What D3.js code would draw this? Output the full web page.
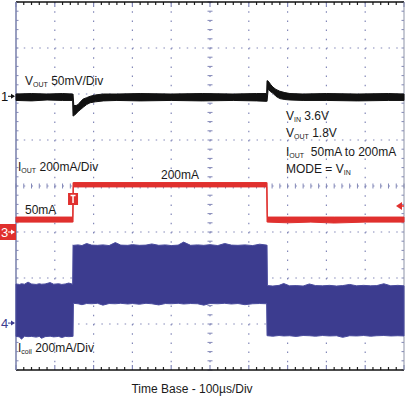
<!DOCTYPE html>
<html>
<head>
<meta charset="utf-8">
<script src="https://cdn.jsdelivr.net/npm/d3@7"></script>
<style>
  html, body { margin: 0; padding: 0; background: #fff; }
  svg { display: block; font-family: "Liberation Sans", Arial, sans-serif; }
</style>
</head>
<body>
<svg id="scope" width="405" height="397"></svg>
<script>
// screen: 10 div x 100us, 8 div vertical
const timeDivs = d3.range(0, 1001, 100);
const timeMinor = d3.range(0, 1001, 20);
const vertDivs = d3.range(-4, 4.01, 1);
const vertMinor = d3.range(-4, 4.01, 0.2);

// channel ground markers (in divisions from centre) and scale per div
const ch1Zero = 1.95, ch1PerDiv = 50;    // Vout mV
const ch3Zero = -1.0, ch3PerDiv = 200;   // Iout mA
const ch4Zero = -2.98, ch4PerDiv = 200;  // Icoil mA

// Vout ripple envelope [t us, low mV, high mV]
const vout = [
  [0, -4.5, 2.5], [40, -5, 3], [80, -4, 2.5], [120, -4.5, 3], [146, -4.5, 2.5],
  [147, -21.5, 2.5], [149, -21, -10], [155, -19, -10], [160, -16.5, -9], [166, -14.5, -6],
  [173, -12, -3], [182, -9, -1.5], [191, -7, 0], [205, -6, 1.5], [225, -5, 2.5],
  [260, -4.5, 2.5], [320, -5, 3], [400, -4.5, 2.5], [480, -5, 3], [560, -4.5, 2.5],
  [620, -5, 3], [646, -5.5, 3],
  [647, -5.5, 17], [650, 8, 16.5], [656, 5, 13], [662, 3.5, 10], [670, 0, 7.5],
  [680, -2.5, 5.5], [693, -3.5, 4], [706, -4, 3], [740, -4.5, 2.5], [800, -4.5, 3],
  [880, -5, 2.5], [960, -4.5, 3], [1000, -4.5, 2.5]
];

// Iout envelope [t us, low mA, high mA]
const iout = [
  [0, 43, 65], [146, 43, 65], [147, 43, 215], [148, 196, 215], [646, 196, 215],
  [647, 43, 215], [648, 43, 65], [700, 40, 65], [760, 43, 65], [820, 39, 65],
  [900, 43, 65], [1000, 43, 65]
];

// Icoil envelope [t us, low mA, high mA]
const icoil = [
  [0, -58, 170], [9, -60, 168], [14, -70, 171], [22, -57, 169], [31, -59, 178],
  [40, -58, 170], [52, -61, 168], [60, -58, 171], [66, -66, 169], [75, -59, 170],
  [88, -57, 176], [97, -60, 169], [110, -58, 171], [118, -63, 168], [127, -58, 170],
  [136, -59, 174], [146, -58, 169],
  [147, -58, 340], [148, 86, 338], [160, 84, 340], [170, 80, 337], [182, 85, 346],
  [195, 84, 339], [210, 86, 338], [224, 78, 340], [240, 85, 337], [256, 84, 350],
  [270, 86, 339], [288, 83, 338], [300, 85, 341], [318, 82, 338], [335, 86, 339],
  [350, 84, 344], [368, 79, 338], [385, 85, 340], [400, 84, 337], [418, 86, 339],
  [432, 83, 352], [450, 85, 338], [468, 84, 340], [484, 78, 338], [500, 85, 341],
  [520, 84, 337], [538, 86, 346], [555, 83, 339], [572, 85, 338], [590, 80, 340],
  [610, 84, 337], [628, 85, 343], [646, 84, 339],
  [647, -55, 339], [648, -55, 163], [662, -57, 161], [678, -54, 164], [690, -56, 172],
  [705, -55, 162], [722, -58, 163], [740, -54, 161], [756, -55, 170], [772, -57, 163],
  [790, -54, 162], [808, -56, 164], [826, -55, 161], [842, -62, 163], [860, -55, 168],
  [878, -56, 162], [896, -54, 164], [914, -57, 162], [930, -55, 163], [948, -54, 171],
  [966, -56, 162], [984, -55, 164], [1000, -56, 162]
];

const svg = d3.select("#scope");
const L = 16, R = 404, T = 2, B = 370;

const x = d3.scaleLinear().domain([0, 1000]).range([L, R]);
const yDiv = d3.scaleLinear().domain([-4, 4]).range([B, T]);
const chY = (zero, perDiv) => (v) => yDiv(zero + v / perDiv);
const y1 = chY(ch1Zero, ch1PerDiv);
const y3 = chY(ch3Zero, ch3PerDiv);
const y4 = chY(ch4Zero, ch4PerDiv);

// ---- graticule ----
const grid = svg.append("g");
const gridCol = "#8388b8";
const dx = x(20) - x(0), dy = yDiv(0) - yDiv(0.2);

timeDivs.slice(1, -1).forEach(t => {
  grid.append("line")
    .attr("x1", x(t)).attr("x2", x(t)).attr("y1", T).attr("y2", B)
    .attr("stroke", gridCol).attr("stroke-width", 1.2)
    .attr("stroke-dasharray", "1.5," + (dy - 1.5));
});
vertDivs.slice(1, -1).forEach(d => {
  grid.append("line")
    .attr("x1", L).attr("x2", R).attr("y1", yDiv(d)).attr("y2", yDiv(d))
    .attr("stroke", gridCol).attr("stroke-width", 1.2)
    .attr("stroke-dasharray", "1.5," + (dx - 1.5));
});
// centre cross ticks
timeMinor.forEach(t => {
  grid.append("line")
    .attr("x1", x(t)).attr("x2", x(t)).attr("y1", yDiv(0) - 2.5).attr("y2", yDiv(0) + 2.5)
    .attr("stroke", gridCol).attr("stroke-width", 1);
});
vertMinor.forEach(d => {
  grid.append("line")
    .attr("x1", x(500) - 2.5).attr("x2", x(500) + 2.5).attr("y1", yDiv(d)).attr("y2", yDiv(d))
    .attr("stroke", gridCol).attr("stroke-width", 1);
  [L, R].forEach(ex => {
    grid.append("line")
      .attr("x1", ex === L ? ex : ex - 2.5).attr("x2", ex === L ? ex + 2.5 : ex)
      .attr("y1", yDiv(d)).attr("y2", yDiv(d))
      .attr("stroke", gridCol).attr("stroke-width", 1);
  });
});
// top / bottom borders with ticks
[[T, 1], [B, -1]].forEach(([yy, dir]) => {
  timeMinor.forEach(t => {
    const major = t % 100 === 0;
    grid.append("line")
      .attr("x1", x(t)).attr("x2", x(t))
      .attr("y1", yy).attr("y2", yy + dir * (major ? 5 : 3))
      .attr("stroke", major ? gridCol : "#222").attr("stroke-width", 1.2);
  });
  grid.append("line")
    .attr("x1", L).attr("x2", R).attr("y1", yy).attr("y2", yy)
    .attr("stroke", "#111").attr("stroke-width", 1.5);
});
grid.append("line").attr("x1", L).attr("x2", L).attr("y1", T).attr("y2", B)
  .attr("stroke", "#7f86b0").attr("stroke-width", 1.6);
grid.append("line").attr("x1", R).attr("x2", R).attr("y1", T).attr("y2", B)
  .attr("stroke", "#8d93a8").attr("stroke-width", 1);

// ---- traces ----
const band = (ys) => d3.area().x(d => x(d[0])).y0(d => ys(d[1])).y1(d => ys(d[2]));

svg.append("path").datum(icoil).attr("d", band(y4))
  .attr("fill", "#3c3c8f").attr("stroke", "#4a4c9e").attr("stroke-width", 1);

svg.append("path").datum(iout).attr("d", band(y3))
  .attr("fill", "#e0302e").attr("stroke", "#e0302e").attr("stroke-width", 1);

svg.append("path").datum(vout).attr("d", band(y1))
  .attr("fill", "#111").attr("stroke", "#111").attr("stroke-width", 1);

// ---- channel markers ----
const arrow = (g, yy, col) => {
  g.append("line").attr("x1", 8).attr("x2", 14).attr("y1", yy).attr("y2", yy)
    .attr("stroke", col).attr("stroke-width", 1);
  g.append("path").attr("d", `M${15},${yy} l-4,-2.5 v5 z`).attr("fill", col);
};
const mk = svg.append("g");
mk.append("text").attr("x", 1).attr("y", y1(0) + 4.5).attr("font-size", 13).attr("fill", "#111").text("1");
arrow(mk, y1(0), "#111");

mk.append("rect").attr("x", 0).attr("y", y3(0) - 8).attr("width", 16).attr("height", 16).attr("fill", "#e0302e");
mk.append("text").attr("x", 1).attr("y", y3(0) + 4.5).attr("font-size", 13).attr("fill", "#fff").text("3");
arrow(mk, y3(0), "#fff");

mk.append("text").attr("x", 1).attr("y", y4(0) + 4.5).attr("font-size", 13).attr("fill", "#3c3c8f").text("4");
arrow(mk, y4(0), "#3c3c8f");

// trigger position marker
const tx = x(147);
mk.append("rect").attr("x", tx - 5).attr("y", 193).attr("width", 10).attr("height", 12).attr("fill", "#e0302e");
mk.append("path").attr("d", `M${tx - 2.5},195.5 H${tx + 2.5} M${tx},195.5 V203`)
  .attr("stroke", "#fff").attr("stroke-width", 1.5).attr("fill", "none");
// trigger level marker
mk.append("path").attr("d", `M396,206 L402,202 L402,210 Z`).attr("fill", "#e0302e");
mk.append("line").attr("x1", 402).attr("x2", 404).attr("y1", 206).attr("y2", 206)
  .attr("stroke", "#e0302e").attr("stroke-width", 1.5);

// ---- labels ----
// parts: plain strings, or [subscript] arrays
const lab = (xx, yy, parts) => {
  const t = svg.append("text").attr("x", xx).attr("y", yy).attr("font-size", 12)
    .attr("fill", "#1a1a1a").attr("xml:space", "preserve");
  let shift = 0;
  parts.forEach(p => {
    if (Array.isArray(p)) {
      t.append("tspan").attr("font-size", 7).attr("dy", 2 - shift).text(p[0]);
      shift = 2;
    } else {
      t.append("tspan").attr("dy", -shift).text(p);
      shift = 0;
    }
  });
  return t;
};
lab(25, 85, ["V", ["OUT"], " 50mV/Div"]);
lab(286, 120, ["V", ["IN"], " 3.6V"]);
lab(286, 137, ["V", ["OUT"], " 1.8V"]);
lab(286, 156, ["I", ["OUT"], "  50mA to 200mA"]);
lab(286, 173, ["MODE = V", ["IN"]]);
lab(18, 171, ["I", ["OUT"], " 200mA/Div"]);
lab(161, 179, ["200mA"]);
lab(25, 214, ["50mA"]);
lab(18, 352, ["I", ["coil"], " 200mA/Div"]);

svg.append("text").attr("x", 192).attr("y", 393).attr("text-anchor", "middle")
  .attr("font-size", 12).attr("fill", "#1a1a1a").text("Time Base - 100µs/Div");
</script>
</body>
</html>
